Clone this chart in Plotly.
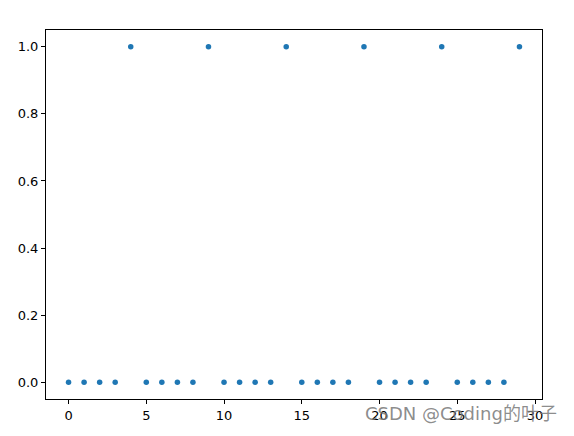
import plotly.graph_objects as go

x_values = list(range(30))
y_values = [0, 0, 0, 0, 1, 0, 0, 0, 0, 1,
            0, 0, 0, 0, 1, 0, 0, 0, 0, 1,
            0, 0, 0, 0, 1, 0, 0, 0, 0, 1]
x_ticks = [0, 5, 10, 15, 20, 25, 30]
y_ticks = [0.0, 0.2, 0.4, 0.6, 0.8, 1.0]
watermark = "CSDN @Coding的叶子"

fig = go.Figure()
fig.add_trace(go.Scatter(
    x=x_values, y=y_values, mode="markers",
    marker=dict(color="#1f77b4", size=5.5, line=dict(width=0)),
))

axis_common = dict(
    showline=True, linecolor="black", linewidth=1, mirror=True,
    showgrid=False, zeroline=False, automargin=False,
    ticks="outside", ticklen=4, tickwidth=1, tickcolor="black",
    tickfont=dict(family="DejaVu Sans", size=13, color="black"),
)

# page body has an 8px default margin, so the figure is sized to fit
fig.update_layout(
    width=566, height=428,
    margin=dict(l=38, r=32, t=22, b=37),
    paper_bgcolor="white", plot_bgcolor="white",
    showlegend=False,
    xaxis=dict(range=[-1.45, 30.45], tickvals=x_ticks,
               ticktext=[str(v) for v in x_ticks], **axis_common),
    yaxis=dict(range=[-0.05, 1.05], tickvals=y_ticks,
               ticktext=[f"{v:.1f}" for v in y_ticks], **axis_common),
    annotations=[dict(
        text=watermark, xref="paper", yref="paper",
        x=1.034, y=-0.038, xanchor="right", yanchor="middle", showarrow=False,
        font=dict(family="DejaVu Sans, Noto Sans CJK SC", size=18,
                  color="rgba(120,120,120,0.85)"),
    )],
)

fig.write_html("out.html")
